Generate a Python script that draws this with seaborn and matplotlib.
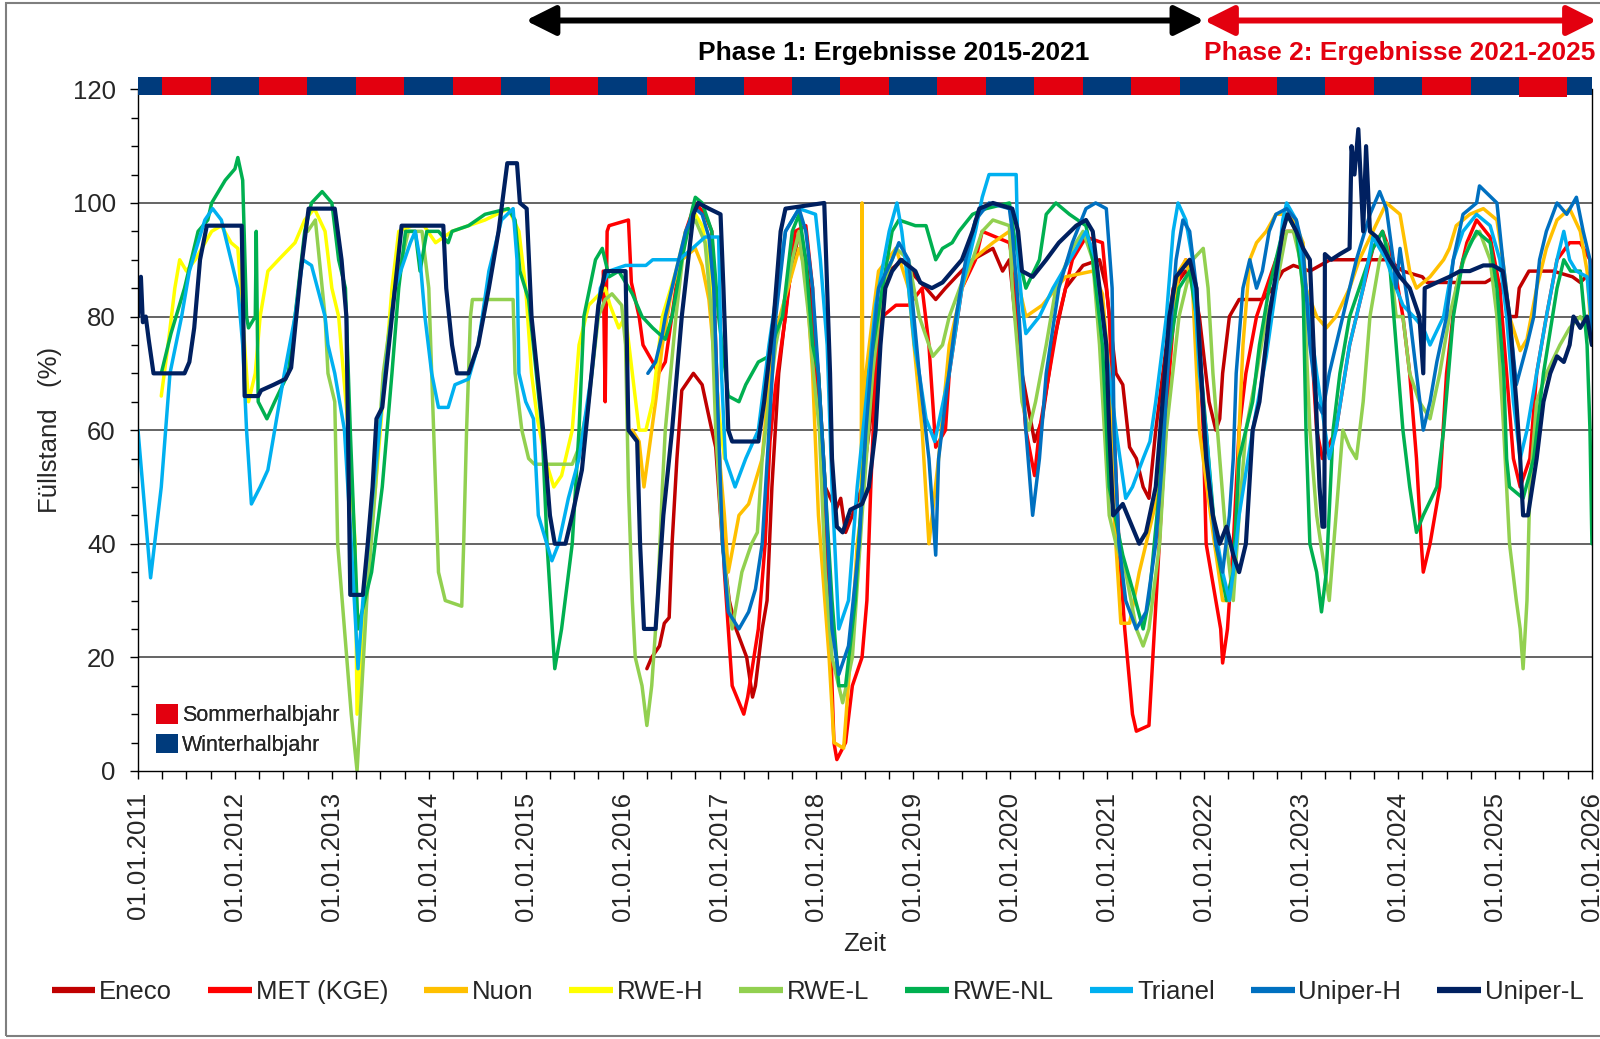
import matplotlib
matplotlib.use("Agg")
import matplotlib.pyplot as plt
from matplotlib.patches import Rectangle, Patch
from matplotlib.lines import Line2D
from matplotlib.ticker import MultipleLocator
import seaborn as sns
import pandas as pd

# ---------------- data (decimal year, filling level %) ----------------
eneco = [(2016.25, 18), (2016.30, 20), (2016.38, 22), (2016.43, 26), (2016.48, 27), (2016.51, 40), (2016.56, 55),
         (2016.61, 67), (2016.73, 70), (2016.82, 68), (2016.92, 60), (2016.96, 57), (2017.03, 40), (2017.10, 30),
         (2017.17, 25), (2017.28, 20), (2017.34, 13), (2017.37, 15), (2017.44, 25), (2017.49, 30), (2017.54, 50),
         (2017.61, 70), (2017.71, 85), (2017.82, 95), (2017.89, 90), (2017.96, 80), (2018.02, 70), (2018.09, 50),
         (2018.20, 46), (2018.25, 48), (2018.30, 42), (2018.37, 45), (2018.47, 50), (2018.58, 65), (2018.64, 78),
         (2018.68, 85), (2018.75, 88), (2018.89, 90), (2019.02, 87), (2019.13, 85), (2019.23, 83), (2019.33, 85),
         (2019.44, 87), (2019.61, 90), (2019.82, 92), (2019.92, 88), (2019.99, 90), (2020.05, 80), (2020.12, 70),
         (2020.25, 58), (2020.33, 62), (2020.44, 75), (2020.57, 85), (2020.75, 89), (2020.92, 90), (2020.99, 85),
         (2021.09, 70), (2021.16, 68), (2021.23, 57), (2021.30, 55), (2021.37, 50), (2021.43, 48), (2021.50, 60),
         (2021.61, 75), (2021.68, 85), (2021.81, 88), (2021.88, 86), (2021.95, 80), (2022.05, 65), (2022.12, 60),
         (2022.16, 62), (2022.19, 70), (2022.26, 80), (2022.36, 83), (2022.60, 83), (2022.71, 85), (2022.81, 88),
         (2022.92, 89), (2023.09, 88), (2023.30, 90), (2023.50, 90), (2023.71, 90), (2023.90, 90), (2024.05, 88),
         (2024.25, 87), (2024.30, 86), (2024.90, 86), (2025.00, 87), (2025.10, 84), (2025.15, 80), (2025.22, 80),
         (2025.25, 85), (2025.35, 88), (2025.60, 88), (2025.80, 87), (2025.88, 86), (2026.00, 88)]

met = [(2015.80, 88), (2015.82, 65), (2015.84, 95), (2015.86, 96), (2016.06, 97), (2016.09, 86), (2016.17, 80),
       (2016.21, 75), (2016.31, 72), (2016.37, 70), (2016.44, 72), (2016.55, 85), (2016.65, 95), (2016.75, 100),
       (2016.85, 98), (2016.92, 95), (2016.95, 80), (2017.00, 55), (2017.05, 35), (2017.13, 15), (2017.25, 10),
       (2017.29, 13), (2017.40, 25), (2017.47, 40), (2017.52, 58), (2017.58, 68), (2017.68, 80), (2017.78, 95),
       (2017.89, 96), (2017.96, 85), (2017.99, 70), (2018.06, 55), (2018.13, 30), (2018.18, 5), (2018.21, 2),
       (2018.30, 5), (2018.37, 15), (2018.47, 20), (2018.52, 30), (2018.56, 50), (2018.61, 70), (2018.68, 80),
       (2018.82, 82), (2018.95, 82), (2019.09, 85), (2019.16, 75), (2019.23, 57), (2019.33, 60), (2019.37, 70),
       (2019.50, 85), (2019.64, 90), (2019.71, 95), (2019.99, 93), (2020.02, 90), (2020.09, 75), (2020.16, 60),
       (2020.25, 52), (2020.30, 60), (2020.40, 70), (2020.50, 80), (2020.64, 90), (2020.78, 94), (2020.95, 93),
       (2021.02, 80), (2021.07, 60), (2021.12, 40), (2021.18, 25), (2021.26, 10), (2021.30, 7), (2021.43, 8),
       (2021.47, 20), (2021.52, 35), (2021.57, 50), (2021.64, 70), (2021.71, 85), (2021.81, 90), (2021.92, 85),
       (2021.99, 60), (2022.02, 40), (2022.12, 30), (2022.17, 25), (2022.19, 19), (2022.24, 25), (2022.30, 40),
       (2022.36, 60), (2022.43, 70), (2022.54, 80), (2022.64, 85), (2022.74, 90), (2022.85, 95), (2022.92, 95),
       (2023.00, 92), (2023.05, 85), (2023.09, 80), (2023.16, 60), (2023.22, 55), (2023.36, 60), (2023.50, 75),
       (2023.64, 85), (2023.74, 92), (2023.84, 95), (2023.95, 90), (2024.05, 80), (2024.12, 70), (2024.19, 55),
       (2024.24, 40), (2024.26, 35), (2024.33, 40), (2024.43, 50), (2024.50, 70), (2024.60, 85), (2024.71, 93),
       (2024.81, 97), (2024.95, 94), (2025.05, 85), (2025.12, 70), (2025.19, 55), (2025.26, 50), (2025.36, 55),
       (2025.43, 70), (2025.53, 80), (2025.64, 90), (2025.77, 93), (2025.88, 93), (2025.98, 90), (2026.00, 88)]

nuon = [(2016.10, 60), (2016.17, 58), (2016.22, 50), (2016.26, 55), (2016.34, 65), (2016.41, 75), (2016.51, 85),
        (2016.61, 90), (2016.75, 92), (2016.82, 89), (2016.89, 83), (2016.96, 70), (2017.00, 55), (2017.05, 45),
        (2017.09, 35), (2017.20, 45), (2017.30, 47), (2017.44, 55), (2017.54, 75), (2017.82, 92), (2017.89, 88),
        (2017.96, 70), (2018.02, 45), (2018.13, 20), (2018.18, 5), (2018.28, 4), (2018.35, 20), (2018.42, 40),
        (2018.46, 45), (2018.47, 100), (2018.48, 55), (2018.51, 70), (2018.58, 80), (2018.64, 88), (2018.82, 92),
        (2018.95, 85), (2019.09, 60), (2019.16, 40), (2019.26, 55), (2019.37, 75), (2019.50, 85), (2019.61, 90),
        (2019.82, 93), (2019.99, 95), (2020.05, 88), (2020.12, 83), (2020.16, 80), (2020.33, 82), (2020.57, 87),
        (2020.85, 88), (2020.95, 84), (2021.02, 70), (2021.07, 45), (2021.14, 26), (2021.23, 26), (2021.33, 35),
        (2021.54, 50), (2021.61, 70), (2021.74, 88), (2021.81, 90), (2021.88, 85), (2021.95, 60), (2022.09, 42),
        (2022.19, 30), (2022.26, 30), (2022.33, 40), (2022.36, 60), (2022.40, 75), (2022.47, 90), (2022.54, 93),
        (2022.64, 95), (2022.74, 98), (2022.81, 98), (2022.92, 97), (2023.02, 93), (2023.05, 85), (2023.16, 80),
        (2023.26, 78), (2023.36, 80), (2023.50, 85), (2023.60, 90), (2023.74, 95), (2023.88, 100), (2024.02, 98),
        (2024.12, 88), (2024.19, 85), (2024.33, 87), (2024.47, 90), (2024.53, 92), (2024.60, 96), (2024.74, 98),
        (2024.88, 99), (2025.02, 97), (2025.08, 90), (2025.15, 80), (2025.26, 74), (2025.33, 76), (2025.43, 85),
        (2025.53, 92), (2025.64, 97), (2025.77, 99), (2025.88, 95), (2025.95, 88), (2026.00, 75)]

rwe_h = [(2011.24, 66), (2011.31, 75), (2011.38, 85), (2011.43, 90), (2011.50, 88), (2011.59, 90), (2011.76, 95),
         (2011.86, 96), (2011.96, 93), (2012.03, 92), (2012.08, 80), (2012.14, 65), (2012.21, 70), (2012.26, 80),
         (2012.34, 88), (2012.45, 90), (2012.62, 93), (2012.72, 97), (2012.82, 99), (2012.93, 95), (2013.00, 85),
         (2013.07, 80), (2013.17, 60), (2013.24, 40), (2013.26, 10), (2013.34, 30), (2013.45, 50), (2013.55, 70),
         (2013.62, 85), (2013.69, 95), (2013.83, 96), (2013.95, 96), (2014.07, 93), (2014.24, 95), (2014.58, 97),
         (2014.82, 99), (2014.93, 95), (2015.00, 85), (2015.06, 70), (2015.12, 62), (2015.20, 55), (2015.29, 50),
         (2015.37, 52), (2015.48, 60), (2015.55, 75), (2015.65, 82), (2015.82, 85), (2015.87, 82), (2015.96, 78),
         (2016.03, 80), (2016.10, 70), (2016.17, 60), (2016.24, 60), (2016.31, 65), (2016.41, 80), (2016.55, 88),
         (2016.65, 95), (2016.75, 98), (2016.82, 96), (2016.89, 90), (2016.93, 80), (2016.96, 70), (2017.00, 62),
         (2017.05, 55)]

rwe_l = [(2012.75, 95), (2012.83, 97), (2012.93, 80), (2012.96, 70), (2013.03, 65), (2013.06, 40), (2013.13, 25),
         (2013.20, 10), (2013.26, 0), (2013.31, 15), (2013.36, 30), (2013.45, 50), (2013.53, 70), (2013.65, 85),
         (2013.79, 95), (2013.93, 95), (2014.00, 85), (2014.03, 70), (2014.07, 50), (2014.10, 35), (2014.17, 30),
         (2014.34, 29), (2014.36, 40), (2014.39, 60), (2014.43, 80), (2014.45, 83), (2014.87, 83), (2014.89, 70),
         (2014.96, 60), (2015.03, 55), (2015.09, 54), (2015.48, 54), (2015.55, 57), (2015.65, 65), (2015.75, 80),
         (2015.82, 83), (2015.89, 84), (2015.99, 82), (2016.03, 75), (2016.06, 50), (2016.10, 30), (2016.13, 20),
         (2016.20, 15), (2016.25, 8), (2016.30, 15), (2016.36, 30), (2016.41, 50), (2016.44, 60), (2016.55, 80),
         (2016.65, 95), (2016.75, 97), (2016.85, 93), (2016.92, 80), (2016.96, 60), (2017.03, 40), (2017.13, 25),
         (2017.23, 35), (2017.33, 40), (2017.39, 42), (2017.44, 55), (2017.58, 75), (2017.75, 90), (2017.82, 95),
         (2017.92, 80), (2017.97, 70), (2018.03, 60), (2018.09, 35), (2018.16, 20), (2018.27, 12), (2018.37, 20),
         (2018.47, 45), (2018.58, 70), (2018.68, 85), (2018.82, 92), (2018.95, 90), (2019.06, 80), (2019.20, 73),
         (2019.30, 75), (2019.37, 80), (2019.50, 86), (2019.61, 90), (2019.71, 95), (2019.82, 97), (2019.99, 96),
         (2020.02, 85), (2020.12, 65), (2020.19, 60), (2020.26, 65), (2020.37, 75), (2020.47, 85), (2020.64, 92),
         (2020.75, 95), (2020.85, 90), (2020.92, 75), (2021.02, 45), (2021.09, 40), (2021.19, 35), (2021.30, 25),
         (2021.37, 22), (2021.43, 25), (2021.54, 40), (2021.61, 60), (2021.74, 80), (2021.88, 90), (2021.99, 92),
         (2022.04, 85), (2022.09, 70), (2022.16, 55), (2022.23, 40), (2022.30, 30), (2022.36, 45), (2022.43, 60),
         (2022.54, 70), (2022.64, 80), (2022.74, 85), (2022.85, 95), (2022.92, 95), (2022.99, 90), (2023.04, 80),
         (2023.09, 60), (2023.16, 45), (2023.29, 30), (2023.36, 45), (2023.43, 60), (2023.50, 57), (2023.57, 55),
         (2023.64, 65), (2023.71, 80), (2023.81, 90), (2023.88, 93), (2023.95, 85), (2023.98, 80), (2024.05, 80),
         (2024.12, 70), (2024.22, 65), (2024.33, 62), (2024.43, 70), (2024.53, 80), (2024.64, 88), (2024.74, 93),
         (2024.84, 95), (2024.95, 90), (2025.02, 80), (2025.09, 60), (2025.15, 40), (2025.22, 30), (2025.26, 25),
         (2025.29, 18), (2025.33, 30), (2025.36, 50), (2025.43, 65), (2025.53, 70), (2025.67, 75), (2025.77, 78),
         (2025.88, 80), (2025.95, 78), (2026.00, 75)]

rwe_nl = [(2011.24, 70), (2011.34, 77), (2011.48, 85), (2011.62, 95), (2011.72, 97), (2011.76, 100), (2011.90, 104),
          (2012.00, 106), (2012.03, 108), (2012.08, 104), (2012.12, 80), (2012.14, 78), (2012.21, 80), (2012.22, 95),
          (2012.24, 65), (2012.33, 62), (2012.41, 65), (2012.55, 70), (2012.62, 80), (2012.72, 95), (2012.79, 100),
          (2012.90, 102), (2013.00, 100), (2013.07, 90), (2013.14, 85), (2013.19, 60), (2013.27, 25), (2013.31, 28),
          (2013.41, 35), (2013.52, 50), (2013.62, 70), (2013.69, 85), (2013.76, 95), (2013.86, 95), (2013.91, 88),
          (2013.98, 95), (2014.10, 95), (2014.20, 93), (2014.24, 95), (2014.41, 96), (2014.58, 98), (2014.82, 99),
          (2014.89, 97), (2014.94, 88), (2015.03, 83), (2015.17, 60), (2015.22, 40), (2015.30, 18), (2015.37, 25),
          (2015.48, 40), (2015.55, 60), (2015.60, 80), (2015.72, 90), (2015.79, 92), (2015.86, 87), (2015.96, 88),
          (2016.10, 84), (2016.20, 80), (2016.31, 78), (2016.44, 76), (2016.51, 80), (2016.61, 90), (2016.72, 99),
          (2016.75, 101), (2016.82, 100), (2016.92, 95), (2016.99, 80), (2017.09, 66), (2017.20, 65), (2017.27, 68),
          (2017.40, 72), (2017.51, 73), (2017.58, 77), (2017.65, 80), (2017.75, 95), (2017.82, 98), (2017.89, 90),
          (2017.96, 75), (2018.02, 70), (2018.09, 50), (2018.16, 30), (2018.23, 15), (2018.30, 15), (2018.40, 30),
          (2018.47, 50), (2018.54, 70), (2018.68, 85), (2018.78, 95), (2018.85, 97), (2019.02, 96), (2019.13, 96),
          (2019.23, 90), (2019.30, 92), (2019.40, 93), (2019.47, 95), (2019.61, 98), (2019.75, 99), (2019.99, 100),
          (2020.05, 93), (2020.16, 85), (2020.30, 90), (2020.37, 98), (2020.47, 100), (2020.61, 98), (2020.78, 96),
          (2020.85, 90), (2020.95, 75), (2021.02, 50), (2021.16, 38), (2021.26, 32), (2021.37, 25), (2021.43, 30),
          (2021.54, 50), (2021.61, 70), (2021.74, 85), (2021.85, 88), (2021.92, 80), (2022.02, 60), (2022.12, 40),
          (2022.23, 30), (2022.30, 35), (2022.36, 55), (2022.50, 65), (2022.57, 75), (2022.67, 85), (2022.81, 95),
          (2022.85, 98), (2022.95, 95), (2023.02, 85), (2023.05, 60), (2023.09, 40), (2023.16, 35), (2023.21, 28),
          (2023.26, 35), (2023.33, 60), (2023.40, 70), (2023.50, 80), (2023.60, 85), (2023.74, 92), (2023.84, 95),
          (2023.91, 90), (2023.98, 75), (2024.05, 60), (2024.12, 50), (2024.19, 42), (2024.26, 45), (2024.40, 50),
          (2024.47, 60), (2024.57, 80), (2024.67, 90), (2024.81, 95), (2024.95, 93), (2025.02, 85), (2025.09, 70),
          (2025.12, 55), (2025.15, 50), (2025.29, 48), (2025.40, 55), (2025.50, 70), (2025.64, 85), (2025.71, 90),
          (2025.78, 88), (2025.88, 88), (2025.95, 75), (2025.98, 60), (2026.00, 40)]

trianel = [(2011.00, 60), (2011.06, 48), (2011.13, 34), (2011.24, 50), (2011.33, 70), (2011.45, 80), (2011.53, 88),
           (2011.69, 97), (2011.77, 99), (2011.86, 97), (2011.96, 90), (2012.03, 85), (2012.08, 75), (2012.12, 60),
           (2012.17, 47), (2012.26, 50), (2012.34, 53), (2012.41, 60), (2012.51, 70), (2012.62, 80), (2012.70, 90),
           (2012.79, 89), (2012.93, 80), (2012.96, 75), (2013.03, 70), (2013.13, 60), (2013.20, 40), (2013.27, 18),
           (2013.32, 30), (2013.43, 50), (2013.55, 70), (2013.65, 85), (2013.81, 93), (2013.86, 95), (2013.91, 90),
           (2013.96, 80), (2014.03, 70), (2014.10, 64), (2014.20, 64), (2014.27, 68), (2014.41, 69), (2014.51, 75),
           (2014.62, 88), (2014.75, 97), (2014.87, 99), (2014.91, 90), (2014.93, 70), (2015.00, 65), (2015.08, 62),
           (2015.13, 45), (2015.27, 37), (2015.34, 40), (2015.44, 48), (2015.55, 55), (2015.68, 70), (2015.77, 85),
           (2015.86, 88), (2016.03, 89), (2016.24, 89), (2016.31, 90), (2016.58, 90), (2016.72, 92), (2016.85, 94),
           (2016.99, 94), (2017.02, 70), (2017.06, 55), (2017.16, 50), (2017.27, 55), (2017.40, 60), (2017.51, 75),
           (2017.68, 95), (2017.82, 99), (2017.99, 98), (2018.04, 90), (2018.11, 75), (2018.16, 50), (2018.23, 25),
           (2018.33, 30), (2018.42, 50), (2018.51, 65), (2018.61, 82), (2018.75, 95), (2018.83, 100), (2018.88, 95),
           (2018.95, 85), (2019.01, 75), (2019.06, 70), (2019.13, 62), (2019.22, 58), (2019.37, 70), (2019.50, 85),
           (2019.64, 95), (2019.71, 101), (2019.78, 105), (2020.06, 105), (2020.08, 90), (2020.12, 82), (2020.16, 77),
           (2020.30, 80), (2020.44, 85), (2020.68, 92), (2020.78, 95), (2020.88, 90), (2020.95, 80), (2021.02, 70),
           (2021.09, 60), (2021.19, 48), (2021.26, 50), (2021.37, 55), (2021.44, 58), (2021.50, 65), (2021.61, 80),
           (2021.68, 95), (2021.73, 100), (2021.81, 97), (2021.88, 90), (2021.95, 70), (2022.02, 60), (2022.09, 45),
           (2022.19, 35), (2022.26, 30), (2022.30, 35), (2022.36, 45), (2022.50, 60), (2022.64, 73), (2022.74, 85),
           (2022.81, 97), (2022.85, 100), (2022.95, 97), (2023.05, 85), (2023.16, 70), (2023.29, 55), (2023.36, 60),
           (2023.50, 75), (2023.64, 85), (2023.74, 94), (2023.88, 90), (2023.98, 85), (2024.05, 82), (2024.16, 80),
           (2024.26, 78), (2024.33, 75), (2024.47, 80), (2024.57, 90), (2024.67, 95), (2024.81, 98), (2024.95, 96),
           (2025.05, 90), (2025.12, 80), (2025.19, 65), (2025.26, 55), (2025.33, 60), (2025.43, 70), (2025.53, 80),
           (2025.64, 90), (2025.71, 95), (2025.77, 90), (2025.84, 88), (2025.95, 87), (2026.00, 78)]

uniper_h = [(2016.26, 70), (2016.34, 72), (2016.41, 77), (2016.44, 80), (2016.55, 88), (2016.65, 95), (2016.75, 99),
            (2016.82, 98), (2016.89, 94), (2016.94, 85), (2016.99, 60), (2017.03, 40), (2017.09, 28), (2017.20, 25),
            (2017.30, 28), (2017.37, 32), (2017.44, 40), (2017.51, 60), (2017.58, 80), (2017.68, 95), (2017.82, 99),
            (2017.89, 95), (2017.96, 85), (2018.02, 70), (2018.09, 50), (2018.16, 25), (2018.23, 17), (2018.33, 22),
            (2018.44, 40), (2018.51, 60), (2018.58, 75), (2018.64, 85), (2018.78, 90), (2018.85, 93), (2018.95, 90),
            (2019.06, 70), (2019.16, 55), (2019.23, 38), (2019.26, 55), (2019.33, 65), (2019.44, 80), (2019.54, 90),
            (2019.64, 97), (2019.78, 100), (2019.99, 99), (2020.02, 95), (2020.09, 80), (2020.16, 60), (2020.23, 45),
            (2020.30, 55), (2020.37, 70), (2020.50, 85), (2020.64, 93), (2020.78, 99), (2020.88, 100), (2020.99, 99),
            (2021.05, 85), (2021.07, 60), (2021.12, 40), (2021.19, 30), (2021.30, 25), (2021.40, 28), (2021.50, 40),
            (2021.57, 55), (2021.64, 75), (2021.71, 90), (2021.78, 97), (2021.85, 95), (2021.92, 85), (2021.99, 65),
            (2022.05, 50), (2022.12, 40), (2022.19, 35), (2022.26, 45), (2022.30, 55), (2022.33, 70), (2022.40, 85),
            (2022.47, 90), (2022.54, 85), (2022.60, 88), (2022.67, 95), (2022.74, 98), (2022.85, 99), (2022.95, 97),
            (2023.02, 92), (2023.09, 75), (2023.16, 65), (2023.22, 63), (2023.29, 70), (2023.43, 80), (2023.57, 90),
            (2023.71, 98), (2023.81, 102), (2023.88, 99), (2023.95, 90), (2023.98, 85), (2024.02, 92), (2024.12, 80),
            (2024.19, 70), (2024.26, 60), (2024.33, 65), (2024.40, 72), (2024.50, 80), (2024.57, 90), (2024.67, 98),
            (2024.81, 100), (2024.84, 103), (2025.02, 100), (2025.08, 90), (2025.15, 80), (2025.22, 68), (2025.33, 75),
            (2025.40, 80), (2025.46, 90), (2025.53, 95), (2025.64, 100), (2025.74, 98), (2025.84, 101), (2025.91, 95),
            (2025.98, 90), (2026.00, 75)]

uniper_l = [(2011.00, 80), (2011.03, 87), (2011.05, 79), (2011.08, 80), (2011.11, 76), (2011.16, 70), (2011.30, 70),
            (2011.48, 70), (2011.53, 72), (2011.58, 78), (2011.64, 90), (2011.71, 96), (2012.07, 96), (2012.10, 66),
            (2012.24, 66), (2012.27, 67), (2012.40, 68), (2012.52, 69), (2012.58, 71), (2012.68, 88), (2012.76, 99),
            (2013.03, 99), (2013.10, 90), (2013.15, 80), (2013.19, 31), (2013.32, 31), (2013.37, 40), (2013.42, 50),
            (2013.46, 62), (2013.52, 64), (2013.62, 80), (2013.72, 96), (2014.15, 96), (2014.18, 85), (2014.24, 75),
            (2014.29, 70), (2014.41, 70), (2014.51, 75), (2014.62, 85), (2014.72, 95), (2014.81, 107), (2014.91, 107),
            (2014.94, 100), (2015.01, 99), (2015.06, 80), (2015.12, 70), (2015.18, 60), (2015.25, 45), (2015.30, 40),
            (2015.41, 40), (2015.48, 45), (2015.58, 53), (2015.68, 70), (2015.75, 82), (2015.82, 88), (2016.03, 88),
            (2016.06, 60), (2016.15, 58), (2016.18, 40), (2016.22, 25), (2016.34, 25), (2016.42, 45), (2016.51, 60),
            (2016.61, 80), (2016.73, 98), (2016.78, 100), (2016.89, 99), (2017.01, 98), (2017.04, 85), (2017.09, 60),
            (2017.13, 58), (2017.40, 58), (2017.46, 65), (2017.56, 80), (2017.63, 95), (2017.68, 99), (2018.08, 100),
            (2018.11, 85), (2018.14, 70), (2018.16, 55), (2018.21, 43), (2018.27, 42), (2018.35, 46), (2018.47, 47),
            (2018.54, 50), (2018.61, 60), (2018.66, 75), (2018.71, 85), (2018.78, 88), (2018.87, 90), (2019.02, 88),
            (2019.07, 86), (2019.19, 85), (2019.30, 86), (2019.40, 88), (2019.50, 90), (2019.61, 95), (2019.68, 99),
            (2019.82, 100), (2020.02, 99), (2020.08, 95), (2020.12, 88), (2020.23, 87), (2020.37, 90), (2020.50, 93),
            (2020.68, 96), (2020.78, 97), (2020.85, 95), (2020.92, 85), (2020.99, 75), (2021.02, 60), (2021.06, 45),
            (2021.16, 47), (2021.33, 40), (2021.40, 42), (2021.50, 50), (2021.57, 65), (2021.64, 80), (2021.71, 87),
            (2021.85, 90), (2021.92, 85), (2021.95, 75), (2022.02, 55), (2022.09, 45), (2022.16, 40), (2022.23, 43),
            (2022.30, 38), (2022.36, 35), (2022.43, 40), (2022.50, 60), (2022.57, 65), (2022.67, 80), (2022.81, 95),
            (2022.86, 98), (2022.95, 95), (2023.02, 92), (2023.09, 90), (2023.14, 70), (2023.19, 50), (2023.22, 43),
            (2023.24, 43), (2023.245, 91), (2023.31, 90), (2023.40, 91), (2023.50, 92), (2023.52, 110), (2023.55, 105),
            (2023.59, 113), (2023.64, 95), (2023.67, 110), (2023.71, 95), (2023.78, 94), (2023.85, 92), (2023.91, 90),
            (2024.02, 87), (2024.12, 85), (2024.22, 80), (2024.26, 70), (2024.275, 85), (2024.40, 86), (2024.53, 87),
            (2024.64, 88), (2024.74, 88), (2024.88, 89), (2024.98, 89), (2025.08, 88), (2025.15, 80), (2025.22, 65),
            (2025.26, 55), (2025.29, 45), (2025.34, 45), (2025.43, 55), (2025.50, 65), (2025.57, 70), (2025.64, 73),
            (2025.71, 72), (2025.77, 75), (2025.81, 80), (2025.88, 78), (2025.95, 80), (2026.00, 75)]

series_names = ["Eneco", "MET (KGE)", "Nuon", "RWE-H", "RWE-L", "RWE-NL", "Trianel", "Uniper-H", "Uniper-L"]
series_data = [eneco, met, nuon, rwe_h, rwe_l, rwe_nl, trianel, uniper_h, uniper_l]
series_colors = ["#C00000", "#FF0000", "#FFC000", "#FFFF00", "#92D050", "#00B050", "#00B0F0", "#0070C0", "#002060"]

years = list(range(2011, 2027))
tick_labels = [f"01.01.{y}" for y in years]
summer_start, winter_start = 0.247, 0.748   # 1 April, 1 October as year fraction
season_colors = {"Winterhalbjahr": "#003B7C", "Sommerhalbjahr": "#E3000F"}

# ---------------- styling ----------------
sns.set_style("ticks")
plt.rcParams["font.family"] = ["Liberation Sans", "DejaVu Sans"]
FS = 18.5

fig = plt.figure(figsize=(16, 10.39), dpi=100)
ax = fig.add_axes([0.08625, 0.258, 0.9087, 0.656])

rows = []
for name, pts in zip(series_names, series_data):
    for t, v in pts:
        rows.append({"series": name, "t": t, "v": v})
df = pd.DataFrame(rows)

for name, col in zip(series_names, series_colors):
    sub = df[df["series"] == name]
    sns.lineplot(data=sub, x="t", y="v", color=col, lw=3.0 if name == "Uniper-L" else 2.5,
                 estimator=None, sort=False, ax=ax, legend=False)

ax.set_xlim(years[0], years[-1])
ax.set_ylim(0, 120)
ax.set_xticks(years)
ax.set_xticklabels(tick_labels, rotation=90, fontsize=FS)
ax.xaxis.set_minor_locator(MultipleLocator(0.25))
ax.set_yticks(range(0, 121, 20))
ax.set_yticklabels([str(v) for v in range(0, 121, 20)], fontsize=FS)
ax.yaxis.set_minor_locator(MultipleLocator(5))
ax.tick_params(axis="both", which="both", direction="out", color="black", width=1)
ax.tick_params(axis="x", which="major", length=6, pad=9)
ax.tick_params(axis="x", which="minor", length=6)
ax.tick_params(axis="y", which="major", length=6, pad=10)
ax.tick_params(axis="y", which="minor", length=5)
for v in range(20, 101, 20):
    ax.axhline(v, color="#3A3A3A", lw=1.1, zorder=0)
for s in ["left", "bottom", "right"]:
    ax.spines[s].set_visible(True)
    ax.spines[s].set_color("black")
    ax.spines[s].set_linewidth(1.0)
ax.spines["top"].set_visible(False)
ax.set_xlabel("Zeit", fontsize=FS, labelpad=8)
ax.set_ylabel("Füllstand   (%)", fontsize=FS, labelpad=8)

# season band on top
bounds = [years[0]]
for y in years[:-1]:
    bounds += [y + summer_start, y + winter_start]
bounds.append(years[-1])
n_blocks = len(bounds) - 1
for i in range(n_blocks):
    col = season_colors["Winterhalbjahr"] if i % 2 == 0 else season_colors["Sommerhalbjahr"]
    bottom = 118.6 if i == n_blocks - 2 else 119.0
    ax.add_patch(Rectangle((bounds[i], bottom), bounds[i + 1] - bounds[i], 122.1 - bottom, facecolor=col,
                           edgecolor="none", clip_on=False, zorder=5))

# season legend inside
season_handles = [Patch(facecolor=season_colors["Sommerhalbjahr"], edgecolor="none", label="Sommerhalbjahr"),
                  Patch(facecolor=season_colors["Winterhalbjahr"], edgecolor="none", label="Winterhalbjahr")]
leg1 = ax.legend(handles=season_handles, loc="lower left", bbox_to_anchor=(0.0125, 0.022),
                 frameon=False, fontsize=15.5, handlelength=1.0, handleheight=1.0,
                 handletextpad=0.2, labelspacing=0.35, borderpad=0, borderaxespad=0)
ax.add_artist(leg1)

# phase arrows and texts
arrow_y = 1 - 20.5 / 1039
ax.annotate("", xy=(2015.0, arrow_y), xytext=(2022.0, arrow_y), xycoords=("data", "figure fraction"),
            textcoords=("data", "figure fraction"), annotation_clip=False,
            arrowprops=dict(arrowstyle="<|-|>", color="black", lw=4.3, mutation_scale=45, shrinkA=0, shrinkB=0))
ax.annotate("", xy=(2022.0, arrow_y), xytext=(2026.05, arrow_y), xycoords=("data", "figure fraction"),
            textcoords=("data", "figure fraction"), annotation_clip=False,
            arrowprops=dict(arrowstyle="<|-|>", color="#E3000F", lw=4.3, mutation_scale=45, shrinkA=0, shrinkB=0))
text_y = 1 - 53 / 1039
ax.annotate("Phase 1: Ergebnisse 2015-2021", xy=(2018.8, text_y), xycoords=("data", "figure fraction"),
            ha="center", va="center", fontsize=19, fontweight="bold", color="black", annotation_clip=False)
ax.annotate("Phase 2: Ergebnisse 2021-2025", xy=(2024.02, text_y), xycoords=("data", "figure fraction"),
            ha="center", va="center", fontsize=19, fontweight="bold", color="#E3000F", annotation_clip=False)

# bottom legend
line_handles = [Line2D([0], [0], color=c, lw=4.5, solid_capstyle="butt") for c in series_colors]
fig.legend(handles=line_handles, labels=series_names, loc="center", bbox_to_anchor=(0.511, 0.045),
           ncol=len(series_names), frameon=False, fontsize=FS, handlelength=1.7, handletextpad=0.15,
           columnspacing=1.4)

# chart-area border
fig.patches.append(Rectangle((6 / 1600, 3 / 1039), 1.2, 1 - 6 / 1039, transform=fig.transFigure,
                             facecolor="none", edgecolor="#7F7F7F", lw=1.5))

fig.savefig("out.png", dpi=100)
